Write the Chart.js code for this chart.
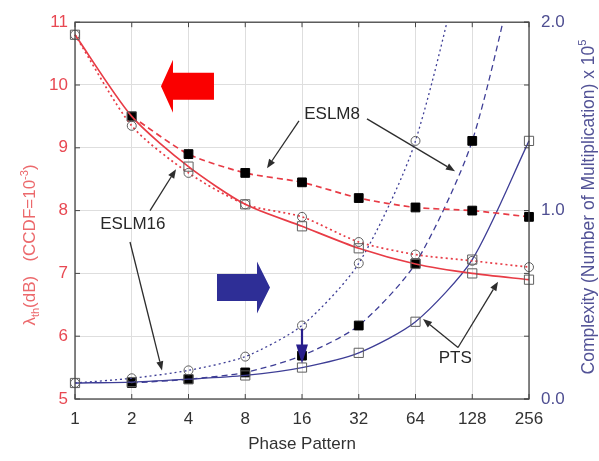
<!DOCTYPE html>
<html>
<head>
<meta charset="utf-8">
<script src="https://cdn.jsdelivr.net/npm/chart.js@4/dist/chart.umd.min.js"></script>
<style>
  html, body { margin: 0; padding: 0; background: #fff; }
  #wrap { width: 599px; height: 461px; }
</style>
</head>
<body>
<div id="wrap"><canvas id="c" width="599" height="461"></canvas></div>
<script>
// Number of phase patterns (x categories)
const phasePatterns = ['1', '2', '4', '8', '16', '32', '64', '128', '256'];

// PAPR threshold lambda_th (dB) at CCDF = 1e-3, left axis
const ptsPapr    = [10.8, 9.5, 8.7, 8.1, 7.75, 7.4, 7.15, 7.0, 6.9];
const eslm16Papr = [10.8, 9.35, 8.6, 8.1, 7.9, 7.5, 7.3, 7.2, 7.1];
const eslm8Papr  = [null, 9.5, 8.9, 8.6, 8.45, 8.2, 8.05, 8.0, 7.9];

// Complexity (number of multiplications x 1e5), right axis
const ptsCx    = [0.085, 0.09, 0.105, 0.125, 0.167, 0.245, 0.41, 0.74, 1.37];
const eslm16Cx = [0.085, 0.11, 0.152, 0.225, 0.39, 0.72, 1.37, 2.65, 5.2];
const eslm8Cx  = [null, 0.085, 0.105, 0.141, 0.23, 0.39, 0.72, 1.37, 2.6];

// Axis tick values
const leftTicks  = [5, 6, 7, 8, 9, 10, 11];
const rightTicks = [0, 1, 2];

const FONT = '"Liberation Sans", Arial, Helvetica, sans-serif';
const RED = 'rgb(232,60,70)';
const RED_TICK = 'rgb(232,72,82)';
const RED_TITLE = 'rgb(236,105,108)';
const NAVY = 'rgb(62,62,150)';
const NAVY_TICK = 'rgb(78,78,145)';
const GRID = 'rgb(222,222,222)';
const OPEN_EDGE = 'rgb(95,95,95)';

function paprSet(label, data, dash, style) {
  return {
    label, data, yAxisID: 'y',
    borderColor: RED, borderWidth: 1.7, borderDash: dash,
    pointStyle: style.shape, pointRadius: style.r,
    pointBorderColor: style.edge, pointBackgroundColor: style.fill,
    pointBorderWidth: 1, tension: 0.25, spanGaps: false
  };
}
function cxSet(label, data, dash, style) {
  return {
    label, data, yAxisID: 'y2',
    borderColor: NAVY, borderWidth: 1.3, borderDash: dash,
    pointStyle: style.shape, pointRadius: style.r,
    pointBorderColor: style.edge, pointBackgroundColor: style.fill,
    pointBorderWidth: 1, tension: 0.25, spanGaps: false
  };
}
const openSquare = { shape: 'rect', r: 6.5, edge: OPEN_EDGE, fill: 'rgba(255,255,255,0)' };
const openCircle = { shape: 'circle', r: 4.5, edge: OPEN_EDGE, fill: 'rgba(255,255,255,0)' };
const fullSquare = { shape: 'rect', r: 6.2, edge: '#000', fill: '#000' };

// Annotations, placed in data space (x = category index, y = left-axis value)
const labelNotes = [
  { text: 'ESLM8',  x: 4.53, y: 9.54 },
  { text: 'ESLM16', x: 1.02, y: 7.78 },
  { text: 'PTS',    x: 6.70, y: 5.64 }
];
const pointerNotes = [
  { from: [3.947, 9.43], to: [3.383, 8.675] },
  { from: [5.145, 9.46], to: [6.696, 8.628] },
  { from: [1.322, 8.00], to: [1.780, 8.66] },
  { from: [0.969, 7.50], to: [1.533, 5.455] },
  { from: [6.749, 5.82], to: [6.132, 6.272] },
  { from: [6.749, 5.82], to: [7.454, 6.869] }
];

const frameAndNotes = {
  id: 'frameAndNotes',
  afterDraw(chart) {
    const ctx = chart.ctx;
    const a = chart.chartArea;
    const xs = chart.scales.x, ys = chart.scales.y, y2 = chart.scales.y2;
    const px = v => xs.getPixelForValue(v);
    const py = v => ys.getPixelForValue(v);
    ctx.save();

    // plot box
    ctx.strokeStyle = 'rgb(70,70,70)';
    ctx.lineWidth = 1.3;
    ctx.strokeRect(a.left, a.top, a.right - a.left, a.bottom - a.top);

    // inward tick marks
    ctx.lineWidth = 1;
    const tl = 5;
    ctx.beginPath();
    phasePatterns.forEach((_, i) => {
      const x = px(i);
      ctx.moveTo(x, a.bottom); ctx.lineTo(x, a.bottom - tl);
      ctx.moveTo(x, a.top); ctx.lineTo(x, a.top + tl);
    });
    leftTicks.forEach(v => {
      const y = py(v);
      ctx.moveTo(a.left, y); ctx.lineTo(a.left + tl, y);
      ctx.moveTo(a.right, y); ctx.lineTo(a.right - tl, y);
    });
    rightTicks.forEach(v => {
      const y = y2.getPixelForValue(v);
      ctx.moveTo(a.right, y); ctx.lineTo(a.right - tl, y);
    });
    ctx.stroke();

    // big direction arrows
    function blockArrow(tipX, tipY, dir, total, head, shaftHalf, headHalf, color) {
      const back = tipX - dir * head, tail = tipX - dir * total;
      ctx.fillStyle = color;
      ctx.beginPath();
      ctx.moveTo(tipX, tipY);
      ctx.lineTo(back, tipY - headHalf);
      ctx.lineTo(back, tipY - shaftHalf);
      ctx.lineTo(tail, tipY - shaftHalf);
      ctx.lineTo(tail, tipY + shaftHalf);
      ctx.lineTo(back, tipY + shaftHalf);
      ctx.lineTo(back, tipY + headHalf);
      ctx.closePath();
      ctx.fill();
    }
    blockArrow(px(1.515), py(9.98), -1, 53, 12, 13.5, 26.5, 'rgb(250,0,0)');
    blockArrow(px(3.436), py(6.775), 1, 53, 13, 13.5, 26, 'rgb(46,46,150)');

    // small downward marker arrow at 16 patterns
    {
      const x = px(4), yTop = py(6.12), yTip = py(5.565);
      ctx.strokeStyle = 'rgb(40,30,140)';
      ctx.fillStyle = 'rgb(40,30,140)';
      ctx.lineWidth = 2.2;
      ctx.beginPath(); ctx.moveTo(x, yTop); ctx.lineTo(x, yTip - 14); ctx.stroke();
      ctx.beginPath();
      ctx.moveTo(x, yTip); ctx.lineTo(x - 6, yTip - 19); ctx.lineTo(x + 6, yTip - 19);
      ctx.closePath(); ctx.fill();
    }

    // pointer lines
    ctx.strokeStyle = 'rgb(45,45,45)';
    ctx.fillStyle = 'rgb(45,45,45)';
    ctx.lineWidth = 1.3;
    pointerNotes.forEach(n => {
      const x1 = px(n.from[0]), y1 = py(n.from[1]);
      const x2 = px(n.to[0]), y2p = py(n.to[1]);
      const ang = Math.atan2(y2p - y1, x2 - x1);
      const hl = 9, hw = 3.5;
      const bx = x2 - hl * Math.cos(ang), by = y2p - hl * Math.sin(ang);
      ctx.beginPath(); ctx.moveTo(x1, y1); ctx.lineTo(bx, by); ctx.stroke();
      ctx.beginPath();
      ctx.moveTo(x2, y2p);
      ctx.lineTo(bx + hw * Math.sin(ang), by - hw * Math.cos(ang));
      ctx.lineTo(bx - hw * Math.sin(ang), by + hw * Math.cos(ang));
      ctx.closePath(); ctx.fill();
    });

    // series labels
    ctx.fillStyle = 'rgb(40,40,40)';
    ctx.font = '17px ' + FONT;
    ctx.textAlign = 'center';
    ctx.textBaseline = 'middle';
    labelNotes.forEach(n => ctx.fillText(n.text, px(n.x), py(n.y)));

    // rotated axis titles with sub/superscripts
    function richVertical(cx, cy, parts, color) {
      ctx.save();
      ctx.translate(cx, cy);
      ctx.rotate(-Math.PI / 2);
      ctx.fillStyle = color;
      ctx.textAlign = 'left';
      ctx.textBaseline = 'alphabetic';
      let total = 0;
      parts.forEach(p => { ctx.font = p.size + 'px ' + FONT; p.w = ctx.measureText(p.t).width; total += p.w; });
      let x = -total / 2;
      parts.forEach(p => {
        ctx.font = p.size + 'px ' + FONT;
        ctx.fillText(p.t, x, 6 + (p.dy || 0));
        x += p.w;
      });
      ctx.restore();
    }
    richVertical(29, 245, [
      { t: 'λ', size: 17 },
      { t: 'th', size: 11, dy: 4 },
      { t: '(dB)   (CCDF=10', size: 17 },
      { t: '-3', size: 11, dy: -7 },
      { t: ')', size: 17 }
    ], RED_TITLE);
    richVertical(588, 207, [
      { t: 'Complexity (Number of Multiplication) x 10', size: 17.5 },
      { t: '5', size: 11, dy: -8 }
    ], 'rgb(82,82,150)');

    ctx.restore();
  }
};

new Chart(document.getElementById('c'), {
  type: 'line',
  data: {
    labels: phasePatterns,
    datasets: [
      paprSet('PTS', ptsPapr, [], openSquare),
      paprSet('ESLM16', eslm16Papr, [2, 3], openCircle),
      paprSet('ESLM8', eslm8Papr, [6, 4], fullSquare),
      cxSet('PTS', ptsCx, [], openSquare),
      cxSet('ESLM16', eslm16Cx, [2, 3], openCircle),
      cxSet('ESLM8', eslm8Cx, [6, 4], fullSquare)
    ]
  },
  options: {
    responsive: false,
    animation: false,
    devicePixelRatio: 1,
    layout: { padding: { top: 17, left: 0, right: 0, bottom: 0 } },
    plugins: { legend: { display: false }, tooltip: { enabled: false } },
    scales: {
      x: {
        type: 'category',
        offset: false,
        grid: { color: GRID, drawTicks: false },
        border: { display: false },
        ticks: { color: 'rgb(50,50,50)', font: { family: FONT, size: 17 }, padding: 10, maxRotation: 0, autoSkip: false },
        title: { display: true, text: 'Phase Pattern', color: 'rgb(50,50,50)', font: { family: FONT, size: 17 }, padding: { top: 0, bottom: 6 } },
        afterFit(s) { s.height = 62; }
      },
      y: {
        position: 'left',
        min: 5, max: 11,
        afterBuildTicks(s) { s.ticks = leftTicks.map(v => ({ value: v })); },
        grid: { color: GRID, drawTicks: false },
        border: { display: false },
        ticks: { color: RED_TICK, font: { family: FONT, size: 17 }, padding: 7 },
        afterFit(s) { s.width = 75; }
      },
      y2: {
        position: 'right',
        min: 0, max: 2,
        afterBuildTicks(s) { s.ticks = rightTicks.map(v => ({ value: v })); },
        grid: { drawOnChartArea: false, drawTicks: false },
        border: { display: false },
        ticks: { color: NAVY_TICK, font: { family: FONT, size: 17 }, padding: 12, callback: v => Number(v).toFixed(1) },
        afterFit(s) { s.width = 70; }
      }
    }
  },
  plugins: [frameAndNotes]
});
</script>
</body>
</html>
